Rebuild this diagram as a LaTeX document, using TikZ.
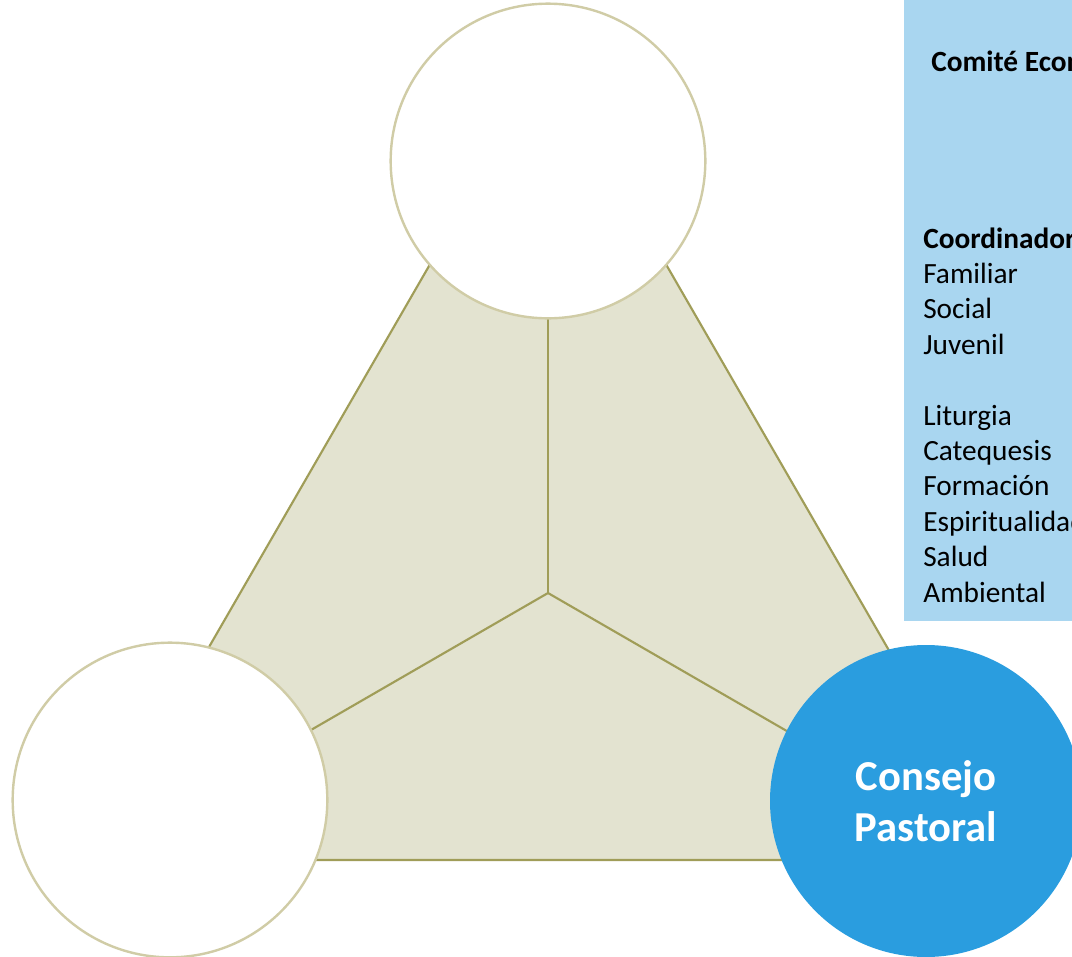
\documentclass[tikz,border=0pt]{standalone}
\usepackage{fontspec}
\setmainfont{Carlito}

\definecolor{fieldfill}{RGB}{227,227,208}
\definecolor{fieldline}{RGB}{160,157,88}
\definecolor{ringline}{RGB}{208,204,166}
\definecolor{councilblue}{RGB}{42,157,223}
\definecolor{panelblue}{RGB}{169,214,240}

\tikzstyle{field}=[fill=fieldfill, draw=fieldline, line width=1.6pt]
\tikzstyle{edge} = [draw=fieldline, line width=1.6pt, -]
\tikzstyle{ring}=[circle, draw=ringline, line width=1.8pt, fill=white, minimum size=236pt, inner sep=0pt]
\tikzstyle{council}=[circle, fill=councilblue, minimum size=234pt, inner sep=0pt, text=white, align=center, font=\fontsize{32}{38.5}\selectfont\bfseries]
\tikzstyle{listitem}=[anchor=base west, inner sep=0pt, font=\fontsize{22}{26}\selectfont]

\begin{document}
\begin{tikzpicture}[x=0.75pt, y=-0.75pt]
        \clip (0,0) rectangle (1072,957);
        \fill[white] (0,0) rectangle (1072,957);
        % triangle
        \coordinate (apex) at (548,60);
        \coordinate (lowleft) at (86,860);
        \coordinate (lowright) at (1010,860);
        \coordinate (hub) at (548,593);
        \path[field] (apex) -- (lowleft) -- (lowright) -- cycle;
        \foreach \dest in {apex, lowleft, lowright}
            \path[edge] (hub) -- (\dest);
        % circles
        \node[ring] (top) at (548,161) {};
        \node[ring] (left) at (170,800) {};
        \node[council] (consejo) at (926,801) {Consejo\\Pastoral};
        % list panel
        \fill[panelblue] (904,-5) rectangle (1080,621);
        \node[listitem, font=\fontsize{22}{26}\selectfont\bfseries] (comite) at (931,71) {Comité Econ};
        \node[listitem, font=\fontsize{22}{26}\selectfont\bfseries] (coord) at (923,{71+35.4*5}) {Coordinador};
        \foreach \i/\txt in {6/Familiar, 7/Social, 8/Juvenil, 10/Liturgia, 11/Catequesis, 12/Formación, 13/Espiritualidad, 14/Salud, 15/Ambiental}
            \node[listitem] (item\i) at (923,{71+35.4*\i}) {\txt};
    \end{tikzpicture}
\end{document}
